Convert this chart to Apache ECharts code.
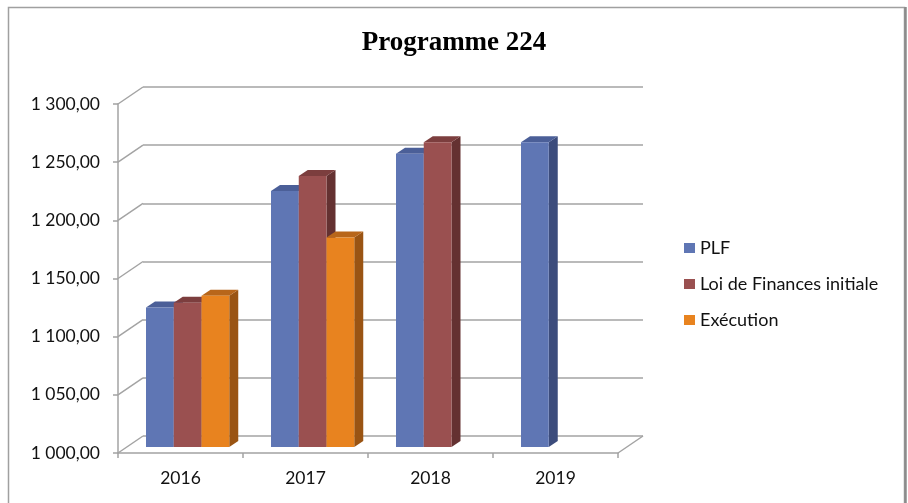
<!DOCTYPE html>
<html>
<head>
<meta charset="utf-8">
<script src="https://cdn.jsdelivr.net/npm/echarts@6/dist/echarts.min.js"></script>
<style>
html,body{margin:0;padding:0;background:#fff;}
#chart{width:908px;height:503px;}
</style>
</head>
<body>
<div id="chart"></div>
<script>
// ---- data ----
const categories = ['2016', '2017', '2018', '2019'];
const seriesNames = ['PLF', 'Loi de Finances initiale', 'Exécution'];
const plf = [1120, 1220, 1252, 1262];
const lfi = [1124, 1233, 1262, null];
const execution = [1130, 1180, null, null];
const yTicks = [1000, 1050, 1100, 1150, 1200, 1250, 1300];
const yTickLabels = ['1 000,00', '1 050,00', '1 100,00', '1 150,00', '1 200,00', '1 250,00', '1 300,00'];

// ---- styles ----
const faceColors = ['#5f76b4', '#9a5050', '#e8831f'];
const sideColors = ['#3c4c7c', '#643131', '#9a5413'];
const topColors = ['#4b5f98', '#7c3e3e', '#b8661a'];
const gridColor = '#a3a3a3';
const labelFont = 'Lato';
const labelSize = 17.5;
const DEPTH_X = 25, DEPTH_Y = 17;   // wall depth
const BAR_DX = 9, BAR_DY = 6;       // bar depth
const BAR_SHIFT_Y = 6;

const chart = echarts.init(document.getElementById('chart'));

function barSeries(idx, values) {
  return {
    name: seriesNames[idx],
    type: 'custom',
    xAxisIndex: 0, yAxisIndex: 0,
    itemStyle: { color: faceColors[idx] },
    data: values.map((v, i) => [i, v == null ? NaN : v]),
    z: 5,
    renderItem: function (params, api) {
      const cat = api.value(0), v = api.value(1);
      if (isNaN(v)) return null;
      const base = api.coord([cat, 1000]);
      const top = api.coord([cat, v]);
      const band = api.size([1, 0])[0];
      const w = band * 0.222;
      const x0 = base[0] - band * 0.276 + idx * w;
      const y0 = base[1] - BAR_SHIFT_Y;
      const y1 = top[1] - BAR_SHIFT_Y;
      const x1 = x0 + w;
      return {
        type: 'group',
        children: [
          { type: 'polygon', shape: { points: [[x1, y0], [x1 + BAR_DX, y0 - BAR_DY], [x1 + BAR_DX, y1 - BAR_DY], [x1, y1]] },
            style: { fill: sideColors[idx] } },
          { type: 'polygon', shape: { points: [[x0, y1], [x0 + BAR_DX, y1 - BAR_DY], [x1 + BAR_DX, y1 - BAR_DY], [x1, y1]] },
            style: { fill: topColors[idx] } },
          { type: 'rect', shape: { x: x0, y: y1, width: w, height: y0 - y1 },
            style: { fill: faceColors[idx] } }
        ]
      };
    }
  };
}

const option = {
  animation: false,
  backgroundColor: '#fff',
  title: {
    text: 'Programme 224',
    left: 'center',
    top: 25,
    textStyle: { fontFamily: 'Liberation Serif', fontWeight: 'bold', fontSize: 27, color: '#000' }
  },
  legend: {
    orient: 'vertical',
    left: 679,
    top: 234,
    itemWidth: 11,
    itemHeight: 10,
    itemGap: 18,
    icon: 'rect',
    data: seriesNames,
    textStyle: { fontFamily: labelFont, fontSize: 18, color: '#111' }
  },
  graphic: [
    { type: 'rect', shape: { x: 8.5, y: 7.5, width: 896, height: 520 },
      style: { fill: 'none', stroke: '#a0a0a0', lineWidth: 1.5 }, z: -10 },
    { type: 'line', shape: { x1: 905.5, y1: 7, x2: 905.5, y2: 503 },
      style: { stroke: '#8c8c8c', lineWidth: 2.5 }, z: -10 }
  ],
  grid: [
    { left: 118, top: 104, width: 500, height: 349 },
    { left: 143, top: 87, width: 500, height: 349 }
  ],
  xAxis: [
    {
      type: 'category', gridIndex: 0, data: categories,
      axisLine: { show: true, lineStyle: { color: gridColor, width: 1.5 } },
      axisTick: { show: true, length: 5, lineStyle: { color: gridColor, width: 1.5 } },
      axisLabel: { fontFamily: labelFont, fontSize: labelSize, color: '#111', margin: 16 }
    },
    {
      type: 'category', gridIndex: 1, data: categories,
      axisLine: { show: false }, axisTick: { show: false }, axisLabel: { show: false }
    }
  ],
  yAxis: [
    {
      type: 'value', gridIndex: 0, min: 1000, max: 1300, interval: 50,
      axisLine: { show: true, lineStyle: { color: gridColor, width: 1.5 } },
      axisTick: { show: true, length: 5, lineStyle: { color: gridColor, width: 1.5 } },
      splitLine: { show: false },
      axisLabel: {
        fontFamily: labelFont, fontSize: labelSize, color: '#111', margin: 18,
        formatter: function (v) { const k = yTicks.indexOf(v); return k >= 0 ? yTickLabels[k] : ''; }
      }
    },
    {
      type: 'value', gridIndex: 1, min: 1000, max: 1300, interval: 50,
      axisLine: { show: false }, axisTick: { show: false }, axisLabel: { show: false },
      splitLine: { show: true, lineStyle: { color: gridColor, width: 1.5 } }
    }
  ],
  series: [
    barSeries(0, plf),
    barSeries(1, lfi),
    barSeries(2, execution),
    {
      name: 'walls',
      type: 'custom',
      xAxisIndex: 0, yAxisIndex: 0,
      silent: true,
      z: 1,
      data: yTicks.map(v => [0, v]),
      renderItem: function (params, api) {
        const v = api.value(1);
        const p = api.coord([0, v]);
        const cs = params.coordSys;
        const children = [
          { type: 'line', shape: { x1: cs.x, y1: p[1], x2: cs.x + DEPTH_X, y2: p[1] - DEPTH_Y },
            style: { stroke: gridColor, lineWidth: 1.5 } }
        ];
        if (v === yTicks[0]) {
          children.push({ type: 'line',
            shape: { x1: cs.x + cs.width, y1: p[1], x2: cs.x + cs.width + DEPTH_X, y2: p[1] - DEPTH_Y },
            style: { stroke: gridColor, lineWidth: 1.5 } });
        }
        return { type: 'group', children: children };
      }
    }
  ]
};
chart.setOption(option);
</script>
</body>
</html>
